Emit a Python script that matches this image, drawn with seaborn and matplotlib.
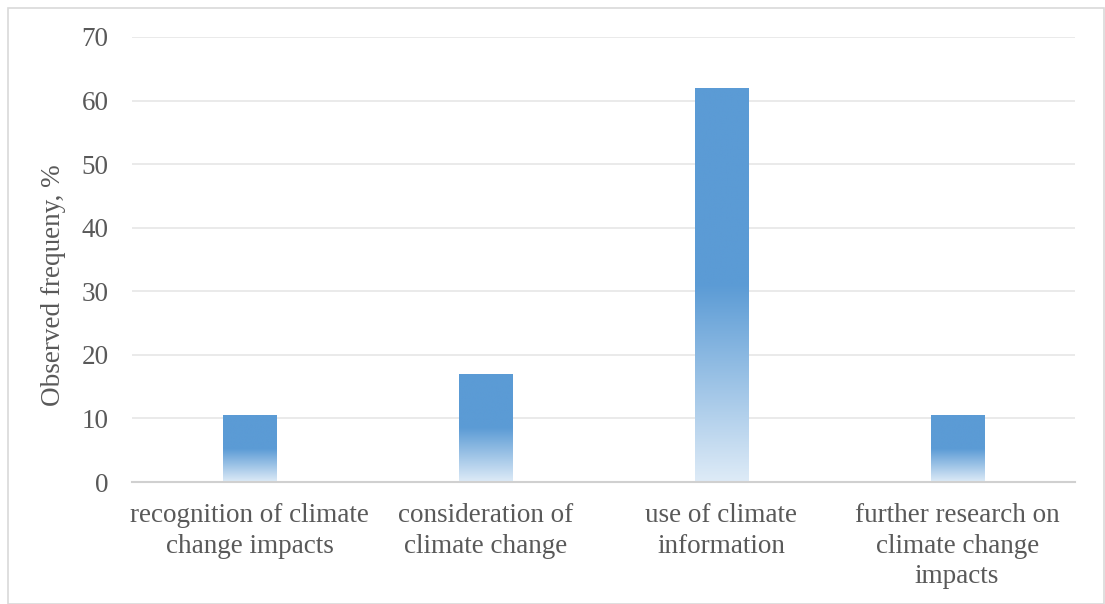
import numpy as np
import pandas as pd
import matplotlib
matplotlib.use("Agg")
import matplotlib.pyplot as plt
import seaborn as sns
from matplotlib.colors import to_rgb
from matplotlib.patches import Rectangle

categories = [
    "recognition of climate\nchange impacts",
    "consideration of\nclimate change",
    "use of climate\ninformation",
    "further research on\nclimate change\nimpacts",
]
values = [10.5, 17.0, 62.0, 10.5]
y_ticks = [0, 10, 20, 30, 40, 50, 60, 70]

sns.set_theme(style="white")
plt.rcParams["font.family"] = ["Liberation Serif", "DejaVu Serif"]

W, H = 1105, 604
fig = plt.figure(figsize=(W / 100, H / 100), dpi=100)
ax = fig.add_axes([132 / W, 1 - 482 / H, (1075 - 132) / W, (482 - 37) / H])

df = pd.DataFrame({"category": categories, "value": values})
sns.barplot(data=df, x="category", y="value", ax=ax, color="#5B9BD5",
            width=0.225, saturation=1, zorder=3)

# gradient fill: solid on top half, fading towards the base
top = np.array(to_rgb("#5B9BD5"))
bottom = np.array(to_rgb("#DEEBF7"))
n = 256
t = np.linspace(0, 1, n)  # 0 at top, 1 at bottom
frac = np.clip((t - 0.5) / 0.5, 0, 1)[:, None]
grad = top * (1 - frac) + bottom * frac
grad = grad[:, None, :]

for p in ax.patches:
    x0, w = p.get_x(), p.get_width()
    h = p.get_height()
    p.set_facecolor("none")
    p.set_edgecolor("none")
    im = ax.imshow(grad, extent=[x0, x0 + w, 0, h], aspect="auto",
                   zorder=3, interpolation="bilinear")
    im.set_clip_path(p)

ax.set_xlim(-0.5, len(categories) - 0.5)
ax.set_ylim(0, 70)
ax.set_yticks(y_ticks)
ax.yaxis.grid(True, color="#E6E6E6", linewidth=1.2, zorder=0)
ax.set_axisbelow(True)
for s in ["top", "right", "left"]:
    ax.spines[s].set_visible(False)
ax.spines["bottom"].set_color("#D0D0D0")
ax.spines["bottom"].set_linewidth(1.5)
ax.spines["bottom"].set_zorder(4)

ax.tick_params(axis="both", length=0, labelsize=19.5, labelcolor="#595959")
ax.tick_params(axis="y", pad=17)
ax.tick_params(axis="x", pad=15)
for lbl in ax.get_xticklabels():
    lbl.set_linespacing(1.3)

ax.set_xlabel("")
ax.set_ylabel("")
fig.text(53 / W, 1 - 285 / H, "Observed frequeny, %", rotation=90,
         ha="center", va="center", fontsize=19.5, color="#595959")

# outer frame of the chart area
fig.patches.append(Rectangle((8 / W, 0), 1 - 9 / W, 1 - 8 / H,
                             transform=fig.transFigure, fill=False,
                             edgecolor="#D9D9D9", linewidth=1.2))

fig.savefig("out.png", dpi=100)
